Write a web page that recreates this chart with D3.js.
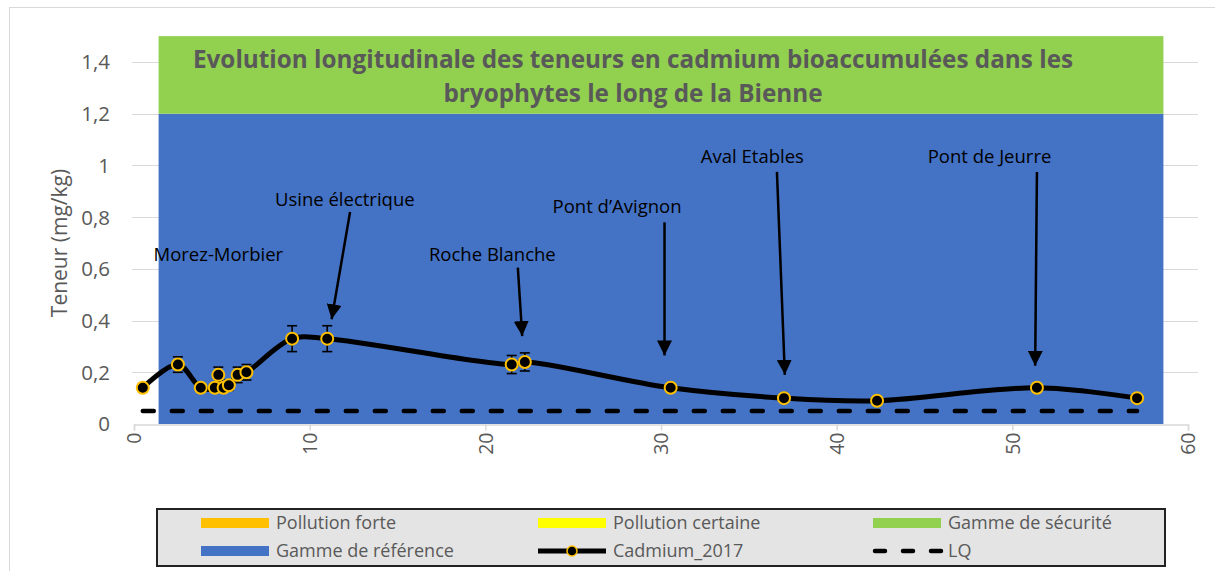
<!DOCTYPE html>
<html>
<head>
<meta charset="utf-8">
<script src="https://cdn.jsdelivr.net/npm/d3@7"></script>
<style>
  html, body { margin: 0; padding: 0; background: #fff; }
  svg { display: block; }
  text { font-family: "Open Sans", Lato, sans-serif; }
</style>
</head>
<body>
<svg id="chart" width="1215" height="571"></svg>
<script>
// ---------- DATA ----------
const distances = [0.5, 2.5, 3.8, 4.6, 4.8, 5.1, 5.4, 5.9, 6.4, 9.0, 11.0, 21.5, 22.25, 30.55, 37.0, 42.3, 51.4, 57.1];
const cadmium2017 = [0.14, 0.23, 0.14, 0.14, 0.19, 0.14, 0.15, 0.19, 0.20, 0.33, 0.33, 0.23, 0.24, 0.14, 0.10, 0.09, 0.14, 0.10];
const errors = [0.01, 0.03, 0.01, 0.01, 0.03, 0.01, 0.02, 0.03, 0.03, 0.05, 0.05, 0.035, 0.035, 0.01, 0.01, 0.01, 0.01, 0.01];
const lqValue = 0.05;
const lqExtent = [0.5, 57.1];
const bandNames = ["Gamme de référence", "Gamme de sécurité"];
const bandLow = [0, 1.2];
const bandHigh = [1.2, 1.5];
const bandExtent = [1.4, 58.6];
const yTicks = [0, 0.2, 0.4, 0.6, 0.8, 1, 1.2, 1.4];
const xTicks = [0, 10, 20, 30, 40, 50, 60];
const siteNames = ["Morez-Morbier", "Usine électrique", "Roche Blanche", "Pont d\u2019Avignon", "Aval Etables", "Pont de Jeurre"];
const siteLabelX = [4.8, 12.0, 20.4, 27.5, 35.2, 48.7];
const siteLabelY = [0.655, 0.87, 0.655, 0.84, 1.035, 1.035];
const arrowFromX = [null, 12.3, 21.85, 30.2, 36.6, 51.4];
const arrowFromY = [null, 0.82, 0.605, 0.78, 0.975, 0.975];
const arrowToX = [null, 11.25, 22.1, 30.2, 37.05, 51.3];
const arrowToY = [null, 0.405, 0.34, 0.265, 0.19, 0.225];
const titleLines = ["Evolution longitudinale des teneurs en cadmium bioaccumulées dans les", "bryophytes le long de la Bienne"];
const legendNames = ["Pollution forte", "Pollution certaine", "Gamme de sécurité", "Gamme de référence", "Cadmium_2017", "LQ"];
const legendKinds = ["rect", "rect", "rect", "rect", "line", "dash"];
const legendColors = ["#FFC000", "#FFFF00", "#92D050", "#4472C4", "#000000", "#000000"];
const bandColors = ["#4472C4", "#92D050"];

// ---------- SETUP ----------
const svg = d3.select("#chart");
const x = d3.scaleLinear().domain([0, 60]).range([134, 1188]);
const y = d3.scaleLinear().domain([0, 1.4]).range([424, 62]);
const gray = "#595959";

// outer chart border
svg.append("rect").attr("x", 9.5).attr("y", 7.5).attr("width", 1220).attr("height", 600)
  .attr("fill", "#fff").attr("stroke", "#d9d9d9").attr("stroke-width", 1);

// gridlines
svg.append("g").selectAll("line").data(yTicks.filter(d => d > 0)).join("line")
  .attr("x1", 132).attr("x2", 1198)
  .attr("y1", d => Math.round(y(d)) + 0.5).attr("y2", d => Math.round(y(d)) + 0.5)
  .attr("stroke", "#d9d9d9").attr("stroke-width", 1.2);

// bands
svg.append("g").selectAll("rect").data(bandNames).join("rect")
  .attr("x", x(bandExtent[0])).attr("width", x(bandExtent[1]) - x(bandExtent[0]))
  .attr("y", (d, i) => y(bandHigh[i])).attr("height", (d, i) => y(bandLow[i]) - y(bandHigh[i]))
  .attr("fill", (d, i) => bandColors[i]);

// x axis
const xAxis = svg.append("g").attr("transform", `translate(0,${y(0) + 0.5})`)
  .call(d3.axisBottom(x).tickValues(xTicks).tickSize(6).tickFormat(d3.format("d")));
xAxis.select(".domain").attr("stroke", "#d9d9d9").attr("stroke-width", 1.5);
xAxis.selectAll(".tick line").attr("stroke", "#d9d9d9").attr("stroke-width", 1.5);
xAxis.selectAll(".tick text")
  .attr("fill", gray).style("font-size", "19.5px").style("font-family", "'Open Sans', sans-serif")
  .attr("transform", "rotate(-90)")
  .attr("x", -8).attr("y", 0).attr("dy", "0.35em")
  .attr("text-anchor", "end");

// y axis labels
svg.append("g").selectAll("text").data(yTicks).join("text")
  .attr("x", 110).attr("y", d => y(d)).attr("dy", "0.36em")
  .attr("text-anchor", "end").attr("fill", gray).style("font-size", "20.5px")
  .text(d => d3.format(".1f")(d).replace(/\.0$/, "").replace(".", ","));

svg.append("text")
  .attr("transform", `translate(67,${243}) rotate(-90)`)
  .attr("text-anchor", "middle").attr("fill", gray).style("font-size", "21px")
  .text("Teneur (mg/kg)");

// title
svg.append("g").selectAll("text").data(titleLines).join("text")
  .attr("x", 633).attr("y", (d, i) => 68 + i * 34)
  .attr("text-anchor", "middle").attr("fill", gray)
  .style("font-size", "24.3px").style("font-weight", "bold")
  .text(d => d);

// LQ line
svg.append("line")
  .attr("x1", x(lqExtent[0])).attr("x2", x(lqExtent[1]))
  .attr("y1", y(lqValue)).attr("y2", y(lqValue))
  .attr("stroke", "#000").attr("stroke-width", 4.5)
  .attr("stroke-dasharray", "11,18").attr("stroke-linecap", "round");

// error bars
const pts = distances.map((d, i) => ({ x: d, y: cadmium2017[i], e: errors[i] }));
const eb = svg.append("g").attr("stroke", "#000").attr("stroke-width", 1.6);
eb.selectAll("line.v").data(pts).join("line").attr("class", "v")
  .attr("x1", d => x(d.x)).attr("x2", d => x(d.x))
  .attr("y1", d => y(d.y - d.e)).attr("y2", d => y(d.y + d.e));
eb.selectAll("line.t").data(pts).join("line").attr("class", "t")
  .attr("x1", d => x(d.x) - 5).attr("x2", d => x(d.x) + 5)
  .attr("y1", d => y(d.y + d.e)).attr("y2", d => y(d.y + d.e));
eb.selectAll("line.b").data(pts).join("line").attr("class", "b")
  .attr("x1", d => x(d.x) - 5).attr("x2", d => x(d.x) + 5)
  .attr("y1", d => y(d.y - d.e)).attr("y2", d => y(d.y - d.e));

// smoothed line
const line = d3.line().x(d => x(d.x)).y(d => y(d.y)).curve(d3.curveCatmullRom.alpha(0.5));
svg.append("path").datum(pts).attr("d", line)
  .attr("fill", "none").attr("stroke", "#000").attr("stroke-width", 5)
  .attr("stroke-linejoin", "round").attr("stroke-linecap", "round");

// markers
svg.append("g").selectAll("circle").data(pts).join("circle")
  .attr("cx", d => x(d.x)).attr("cy", d => y(d.y)).attr("r", 6)
  .attr("fill", "#000").attr("stroke", "#FFC000").attr("stroke-width", 2);

// arrow marker
svg.append("defs").append("marker")
  .attr("id", "head").attr("viewBox", "0 0 10 10").attr("refX", 10).attr("refY", 5)
  .attr("markerUnits", "userSpaceOnUse").attr("markerWidth", 15).attr("markerHeight", 15)
  .attr("orient", "auto")
  .append("path").attr("d", "M0,0 L10,5 L0,10 Z").attr("fill", "#000");

// annotations
const ann = svg.append("g");
siteNames.forEach((name, i) => {
  ann.append("text").attr("x", x(siteLabelX[i])).attr("y", y(siteLabelY[i])).attr("dy", "0.35em")
    .attr("text-anchor", "middle").attr("fill", "#000").style("font-size", "18.5px").text(name);
  if (arrowFromX[i] !== null) {
    ann.append("line")
      .attr("x1", x(arrowFromX[i])).attr("y1", y(arrowFromY[i]))
      .attr("x2", x(arrowToX[i])).attr("y2", y(arrowToY[i]))
      .attr("stroke", "#000").attr("stroke-width", 2.5).attr("marker-end", "url(#head)");
  }
});

// legend
const lg = svg.append("g");
lg.append("rect").attr("x", 157).attr("y", 509).attr("width", 1008).attr("height", 57)
  .attr("fill", "#e4e4e4").attr("stroke", "#222").attr("stroke-width", 2);
const colX = [201, 538, 873];
const rowY = [523, 551];
legendNames.forEach((name, i) => {
  const cx = colX[i % 3], cy = rowY[Math.floor(i / 3)];
  if (legendKinds[i] === "rect") {
    lg.append("rect").attr("x", cx).attr("y", cy - 5).attr("width", 68).attr("height", 10).attr("fill", legendColors[i]);
  } else if (legendKinds[i] === "line") {
    lg.append("line").attr("x1", cx).attr("x2", cx + 68).attr("y1", cy).attr("y2", cy)
      .attr("stroke", "#000").attr("stroke-width", 5);
    lg.append("circle").attr("cx", cx + 34).attr("cy", cy).attr("r", 5)
      .attr("fill", "#000").attr("stroke", "#FFC000").attr("stroke-width", 1.5);
  } else {
    lg.append("line").attr("x1", cx + 2).attr("x2", cx + 68).attr("y1", cy).attr("y2", cy)
      .attr("stroke", "#000").attr("stroke-width", 4.5)
      .attr("stroke-dasharray", "10,18").attr("stroke-linecap", "round");
  }
  lg.append("text").attr("x", cx + 75).attr("y", cy).attr("dy", "0.35em")
    .attr("fill", gray).style("font-size", "18px").text(name);
});
</script>
</body>
</html>
